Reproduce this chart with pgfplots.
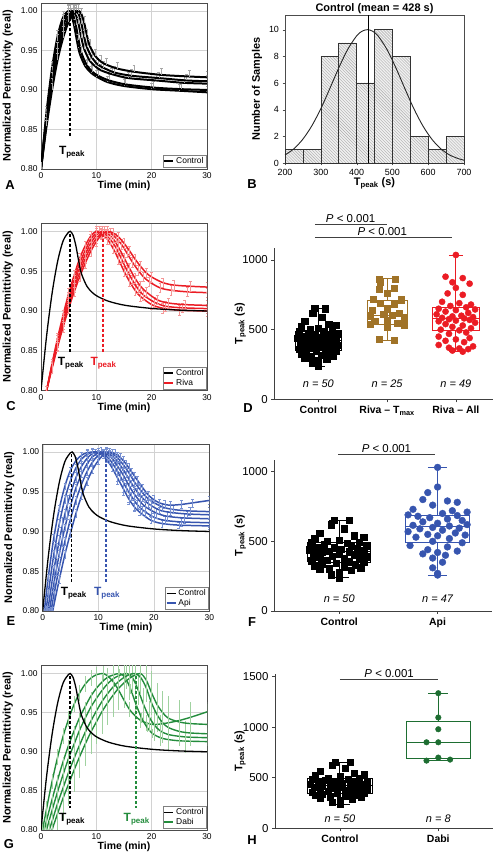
\documentclass[border=0pt]{standalone}
\usepackage{fontspec}
\setmainfont{Liberation Sans}
\usepackage{pgfplots}
\pgfplotsset{compat=1.18}
\usepackage{pgfplotstable}
\usetikzlibrary{patterns}

\definecolor{rivared}{RGB}{235,28,36}
\definecolor{rivaerr}{RGB}{245,150,150}
\definecolor{brownc}{RGB}{160,115,40}
\definecolor{apiblue}{RGB}{55,85,175}
\definecolor{apierr}{RGB}{120,145,210}
\definecolor{dabigreen}{RGB}{35,140,60}
\definecolor{dabidark}{RGB}{30,110,50}
\definecolor{dabierr}{RGB}{160,210,160}

\newcommand{\fs}[1]{\fontsize{#1}{#1}\selectfont}

\pgfplotstableread{
x y
-0.05 653
0.10 650
-0.08 620
0.05 590
-0.20 560
0.15 540
-0.25 520
0.25 530
0.00 510
-0.12 500
0.20 495
-0.28 490
0.08 485
-0.15 475
0.28 470
0.12 465
-0.05 460
-0.22 455
0.18 450
0.02 445
-0.30 440
0.25 435
-0.10 430
0.10 426
-0.18 420
0.22 415
0.00 410
-0.26 405
0.15 400
-0.07 395
0.28 390
-0.20 385
0.05 380
0.20 372
-0.12 365
-0.28 360
0.10 355
0.25 350
-0.03 345
-0.18 340
0.16 332
-0.25 325
0.05 318
0.22 310
-0.10 305
-0.20 298
0.12 292
0.00 280
-0.08 260
0.00 240
}\ctrltab

\pgfplotstableread{
x y
0.88 864
1.12 860
0.90 840
1.10 800
0.88 790
1.00 760
0.80 720
1.20 715
0.90 690
1.10 680
1.00 650
0.78 640
1.18 620
0.95 610
1.08 605
0.75 600
1.25 590
1.00 570
0.82 560
1.15 545
0.75 540
1.25 535
1.00 520
0.88 430
1.10 426
}\tmaxtab

\pgfplotstableread{
x y
2.00 1036
1.85 880
2.10 870
1.95 840
2.20 830
2.00 800
1.88 760
2.10 750
1.80 700
2.05 690
2.22 680
1.92 670
2.15 660
1.75 650
2.28 645
2.00 640
1.85 630
2.18 620
1.72 610
2.08 600
1.95 595
2.25 590
1.80 585
2.12 581
1.90 575
2.20 570
2.00 565
1.75 560
2.28 550
1.85 540
2.10 530
1.95 520
2.22 510
1.78 500
2.05 495
2.15 480
1.90 470
1.75 450
2.20 440
2.00 430
1.85 420
2.12 410
1.75 390
2.25 380
1.90 370
2.05 365
2.18 360
1.95 350
2.10 342
}\rivaalltab

\pgfplotstableread{
x y
1.00 1031
1.00 890
0.90 850
0.85 800
1.10 790
1.20 780
0.95 760
0.75 730
1.15 720
1.30 710
1.05 700
0.70 690
1.20 685
0.80 680
0.92 670
1.10 660
1.25 650
0.85 640
1.00 630
1.30 620
0.75 615
1.12 610
0.95 600
1.22 595
0.82 590
1.05 580
0.70 570
1.18 560
0.90 550
1.28 545
1.00 540
0.78 530
1.12 520
0.95 500
1.25 490
0.72 470
1.10 460
0.90 440
1.20 430
1.00 420
0.85 410
1.08 400
0.95 380
1.05 350
0.95 310
1.00 270
1.00 258
}\apitab

\pgfplotstableread{
x y
1.00 1335
1.00 1095
1.00 979
0.88 850
1.00 850
1.00 699
0.88 669
1.12 679
}\dabitab

\pgfplotsset{
  /pgf/number format/assume math mode=true,
  /pgf/number format/1000 sep={},
  timepanel/.style={
    scale only axis, width=166bp, xmin=0, xmax=30, ymin=0.8, ymax=1.01,
    anchor=south west,
    xtick={0,10,20,30}, ytick={0.80,0.85,0.90,0.95,1.00},
    yticklabel style={/pgf/number format/.cd, fixed, fixed zerofill, precision=2},
    grid=major, grid style={gray!35, line width=0.4pt},
    axis line style={gray!60!black, line width=0.5pt},
    tick style={draw=none},
    tick label style={font=\fs{8.5}},
    xlabel={Time (min)}, ylabel={Normalized Permittivity (real)},
    label style={font=\fs{11}\bfseries},
    xlabel style={font=\fs{10.5}\bfseries, inner sep=0pt},
    ylabel style={at={(axis description cs:-0.2,0.5)}, anchor=center},
    legend style={at={(axis description cs:0.995,0.008)}, anchor=south east, font=\fs{8.5}, inner sep=0.5bp, row sep=-2bp, draw=gray, legend cell align=left},
    legend image code/.code={\draw[##1] (0bp,0bp) -- (9bp,0bp);},
  },
  acurve/.style={forget plot, smooth, black, line width=2pt, error bars/.cd, y dir=plus, y fixed=0.008, error bar style={gray!70, line width=0.35pt}, error mark options={gray!70, rotate=90, mark size=1.4bp, line width=0.35pt}},
  ccurve/.style={forget plot, smooth, black, line width=1.3pt},
  rcurve/.style={forget plot, smooth, rivared, line width=1.5pt, error bars/.cd, y dir=both, y fixed=0.006, error bar style={rivaerr, line width=0.4pt}, error mark options={rivaerr, rotate=90, mark size=1.4bp, line width=0.4pt}},
  bcurve/.style={forget plot, smooth, apiblue, line width=1.5pt, error bars/.cd, y dir=both, y fixed=#1, error bar style={apierr, line width=0.4pt}, error mark options={apierr, rotate=90, mark size=1.4bp, line width=0.4pt}},
  berr/.style={forget plot, only marks, mark=*, mark size=0.01bp, mark options={draw=none, fill=none}, error bars/.cd, y dir=both, y explicit, error bar style={apierr, line width=0.5pt}, error mark options={apierr, rotate=90, mark size=1.6bp, line width=0.5pt}},
  gcurve/.style={forget plot, smooth, dabigreen, line width=1.4pt, error bars/.cd, y dir=both, y fixed=#1, error bar style={dabierr, line width=0.6pt}, error mark=none},
  catpanel/.style={
    scale only axis, clip=false, anchor=south west,
    axis lines*=left, axis line style={black!75, line width=0.7pt},
    ymin=0, tick align=outside, major tick length=3bp,
    tick style={black!75, line width=0.7pt},
    yticklabel style={font=\fs{11.5}},
    xticklabel style={font=\fs{10.5}\bfseries},
    ylabel={T\textsubscript{peak} (s)},
    ylabel style={font=\fs{11}\bfseries, anchor=center},
  },
  ctrlpts/.style={only marks, mark=square*, mark size=3.2bp, black},
  bxl/.style={#1, line width=0.9pt, mark=none},
}

\begin{document}
\begin{tikzpicture}
\useasboundingbox (0,0) rectangle (495bp,854bp);

% ---------------- A ----------------
\begin{axis}[timepanel, at={(41bp,685bp)}, height=166bp,
  xlabel style={at={(axis description cs:0.5,-0.104)}, anchor=center}]
\addplot[acurve] coordinates {(0,0.800)(1,0.872)(2,0.928)(3,0.968)(4,0.992)(5,1.000)(5.5,0.995)(6,0.981)(6.5,0.962)(7,0.946)(8,0.930)(9,0.922)(10,0.917)(12,0.910)(15,0.905)(20,0.901)(25,0.899)(30,0.897)};
\addplot[acurve] coordinates {(0,0.800)(1,0.868)(2,0.922)(3,0.962)(4,0.988)(5,0.999)(5.3,1.000)(5.8,0.995)(6.3,0.982)(6.8,0.963)(7.3,0.947)(8.3,0.931)(9.3,0.923)(10.3,0.918)(12.3,0.912)(15.3,0.907)(20.3,0.903)(25.3,0.901)(30,0.900)};
\addplot[acurve] coordinates {(0,0.800)(1,0.863)(2,0.914)(3,0.953)(4,0.981)(5,0.996)(5.8,1.000)(6.3,0.995)(6.8,0.983)(7.3,0.966)(7.8,0.952)(8.8,0.937)(9.8,0.930)(10.8,0.925)(12.8,0.920)(15.8,0.915)(20.8,0.912)(25.8,0.909)(30,0.908)};
\addplot[acurve] coordinates {(0,0.800)(1,0.858)(2,0.907)(3,0.945)(4,0.973)(5,0.991)(6,0.9995)(6.3,1.000)(6.8,0.996)(7.3,0.984)(7.8,0.967)(8.3,0.954)(9.3,0.940)(10.3,0.932)(11.3,0.928)(13.3,0.922)(16.3,0.918)(21.3,0.915)(26.3,0.912)(30,0.911)};
\addplot[acurve] coordinates {(0,0.800)(1,0.854)(2,0.900)(3,0.938)(4,0.966)(5,0.986)(6,0.997)(6.8,1.000)(7.3,0.996)(7.8,0.985)(8.3,0.969)(8.8,0.956)(9.8,0.943)(10.8,0.936)(11.8,0.932)(13.8,0.927)(16.8,0.923)(21.8,0.919)(26.8,0.917)(30,0.916)};
\addlegendimage{black, line width=1.8pt}\addlegendentry{Control}
\draw[black, line width=2.2pt, dash pattern=on 3bp off 2bp] (axis cs:5.2,0.997) -- (axis cs:5.2,0.839);
\node[font=\fs{12}\bfseries] at (axis cs:5.6,0.821) {T\textsubscript{peak}};
\end{axis}

% ---------------- B ----------------
\begin{axis}[scale only axis, anchor=south west, at={(285bp,691bp)}, width=179bp, height=148bp,
  clip=false,
  xmin=200, xmax=700, ymin=0, ymax=11.1,
  xtick={200,300,400,500,600,700}, ytick={0,2,4,6,8,10},
  tick pos=left, tick align=outside, major tick length=2.5bp,
  axis line style={gray!60!black, line width=0.5pt}, tick style={gray!60!black},
  tick label style={font=\fs{9}},
  xlabel={T\textsubscript{peak} (s)}, ylabel={Number of Samples},
  label style={font=\fs{11}\bfseries},
  xlabel style={at={(axis description cs:0.5,-0.137)}, anchor=center},
  ylabel style={at={(axis description cs:-0.156,0.5)}, anchor=center}]
\addplot[ybar interval, fill=gray!12, draw=gray!40!black, line width=0.45pt,
  postaction={pattern=north west lines, pattern color=gray!65}]
  coordinates {(200,1)(250,1)(300,8)(350,9)(400,6)(450,10)(500,8)(550,2)(600,1)(650,2)(700,2)};
\addplot[smooth, black!85, line width=0.9pt] coordinates {(200,0.60)(225,1.07)(250,1.79)(275,2.79)(300,4.07)(325,5.57)(350,7.12)(375,8.51)(400,9.53)(415,9.88)(430,10.0)(445,9.88)(460,9.53)(485,8.51)(510,7.12)(535,5.57)(560,4.07)(585,2.79)(610,1.79)(635,1.07)(660,0.60)(685,0.32)(700,0.21)};
\addplot[black, line width=1.2pt] coordinates {(433,0)(433,11.1)};
\node[font=\fs{11}\bfseries, anchor=center] at (axis description cs:0.5,1.046) {Control (mean = 428 s)};
\end{axis}

% ---------------- C ----------------
\begin{axis}[timepanel, at={(41bp,463.3bp)}, height=167.4bp,
  xlabel style={at={(axis description cs:0.5,-0.103)}, anchor=center}]
\addplot[rcurve] coordinates {(0.5,0.785)(1,0.800)(2,0.834)(3,0.866)(4,0.895)(5,0.922)(6,0.945)(7,0.966)(8,0.982)(9,0.994)(10,1.000)(11,0.997)(12,0.990)(13,0.979)(14,0.965)(15,0.950)(16,0.937)(17,0.926)(18,0.918)(20,0.908)(22,0.9035)(25,0.901)(30,0.900)};
\addplot[rcurve] coordinates {(0.5,0.785)(1,0.800)(2,0.833)(3,0.863)(4,0.891)(5,0.917)(6,0.939)(7,0.960)(8,0.976)(9,0.990)(10,0.998)(10.5,1.000)(11.5,0.997)(12.5,0.990)(13.5,0.980)(14.5,0.966)(15.5,0.9515)(16.5,0.939)(17.5,0.928)(18.5,0.920)(20.5,0.911)(22.5,0.906)(25.5,0.904)(30,0.903)};
\addplot[rcurve] coordinates {(0.5,0.785)(1,0.800)(2,0.831)(3,0.860)(4,0.887)(5,0.912)(6,0.934)(7,0.954)(8,0.971)(9,0.985)(10,0.995)(11,1.000)(12,0.997)(13,0.991)(14,0.980)(15,0.967)(16,0.9535)(17,0.941)(18,0.931)(19,0.924)(21,0.914)(23,0.910)(26,0.908)(30,0.907)};
\addplot[rcurve] coordinates {(0.5,0.785)(1,0.800)(2,0.830)(3,0.857)(4,0.883)(5,0.907)(6,0.929)(7,0.948)(8,0.966)(9,0.980)(10,0.991)(11,0.998)(11.5,1.000)(12.5,0.998)(13.5,0.992)(14.5,0.984)(15.5,0.973)(16.5,0.9615)(17.5,0.9515)(18.5,0.943)(19.5,0.937)(21.5,0.929)(23.5,0.926)(26.5,0.924)(30,0.923)};
\addplot[rcurve] coordinates {(0.5,0.785)(1,0.800)(2,0.828)(3,0.855)(4,0.880)(5,0.903)(6,0.924)(7,0.943)(8,0.960)(9,0.975)(10,0.987)(11,0.996)(12,1.000)(13,0.998)(14,0.993)(15,0.985)(16,0.9755)(17,0.965)(18,0.956)(19,0.948)(20,0.9426)(22,0.9356)(24,0.9325)(27,0.931)(30,0.930)};
\addplot[ccurve] coordinates {(0,0.800)(1,0.868)(2,0.922)(3,0.962)(4,0.988)(5,0.999)(5.3,1.000)(5.8,0.995)(6.3,0.982)(6.8,0.963)(7.3,0.947)(8.3,0.931)(9.3,0.923)(10.3,0.918)(12.3,0.912)(15.3,0.907)(20.3,0.903)(25.3,0.901)(30,0.900)};
\addlegendimage{black, line width=1.6pt}\addlegendentry{Control}
\addlegendimage{rivared, line width=1.6pt}\addlegendentry{Riva}
\draw[black, line width=1.8pt, dash pattern=on 3bp off 2bp] (axis cs:5.3,0.997) -- (axis cs:5.3,0.847);
\draw[rivared, line width=1.4pt, dash pattern=on 3bp off 2bp] (axis cs:11.2,0.997) -- (axis cs:11.2,0.847);
\node[font=\fs{12}\bfseries] at (axis cs:5.4,0.834) {T\textsubscript{peak}};
\node[font=\fs{12}\bfseries, text=rivared] at (axis cs:11.3,0.834) {T\textsubscript{peak}};
\end{axis}

% ---------------- D ----------------
\begin{axis}[catpanel, at={(274.3bp,454.7bp)}, width=218.7bp, height=151bp,
  xmin=-0.64, xmax=2.54, ymax=1084, ytick={0,500,1000},
  xtick={0,1,2}, xticklabels={Control, Riva -- T\textsubscript{max}, Riva -- All},
  ylabel style={at={(axis description cs:-0.155,0.5)}}]
\addplot[ctrlpts] table[x=x,y=y] {\ctrltab};
\addplot[bxl=black] coordinates {(-0.33,349)(0.33,349)(0.33,490)(-0.33,490)(-0.33,349)};
\addplot[bxl=black] coordinates {(-0.33,426)(0.33,426)};
\addplot[bxl=black] coordinates {(0,490)(0,653)};
\addplot[bxl=black] coordinates {(0,349)(0,239)};
\addplot[bxl=black] coordinates {(-0.1,653)(0.1,653)};
\addplot[bxl=black] coordinates {(-0.1,239)(0.1,239)};
\addplot[only marks, mark=square*, mark size=3.1bp, brownc] table[x=x,y=y] {\tmaxtab};
\addplot[bxl=brownc] coordinates {(0.71,538)(1.29,538)(1.29,713)(0.71,713)(0.71,538)};
\addplot[bxl=brownc] coordinates {(0.71,605)(1.29,605)};
\addplot[bxl=brownc] coordinates {(1,713)(1,864)};
\addplot[bxl=brownc] coordinates {(1,538)(1,426)};
\addplot[bxl=brownc] coordinates {(0.9,864)(1.1,864)};
\addplot[bxl=brownc] coordinates {(0.9,426)(1.1,426)};
\addplot[only marks, mark=*, mark size=3.1bp, rivared] table[x=x,y=y] {\rivaalltab};
\addplot[bxl=rivared] coordinates {(1.66,497)(2.34,497)(2.34,658)(1.66,658)(1.66,497)};
\addplot[bxl=rivared] coordinates {(1.66,581)(2.34,581)};
\addplot[bxl=rivared] coordinates {(2,658)(2,1036)};
\addplot[bxl=rivared] coordinates {(2,497)(2,342)};
\addplot[bxl=rivared] coordinates {(1.9,1036)(2.1,1036)};
\addplot[bxl=rivared] coordinates {(1.9,342)(2.1,342)};
\draw[gray!50!black, line width=0.7pt] (axis cs:-0.05,1256) -- (axis cs:1.0,1256);
\node[font=\fs{11.5}] at (axis cs:0.47,1295) {\textit{P} < 0.001};
\draw[gray!50!black, line width=0.7pt] (axis cs:-0.05,1163) -- (axis cs:1.95,1163);
\node[font=\fs{11.5}] at (axis cs:0.93,1205) {\textit{P} < 0.001};
\node[font=\fs{11}\itshape] at (axis cs:0,115) {n = 50};
\node[font=\fs{11}\itshape] at (axis cs:1,115) {n = 25};
\node[font=\fs{11}\itshape] at (axis cs:2,115) {n = 49};
\end{axis}

% ---------------- E ----------------
\begin{axis}[timepanel, at={(42.7bp,243bp)}, width=166.6bp, height=167bp,
  xlabel style={at={(axis description cs:0.5,-0.103)}, anchor=center}]
\addplot[bcurve=0.004] coordinates {(0,0.77)(0.3,0.800)(1,0.842)(2,0.892)(3,0.929)(4,0.957)(5,0.977)(6,0.989)(7,0.996)(8,0.999)(9.5,1.000)(10.5,0.997)(11.5,0.991)(12.5,0.980)(13.5,0.967)(14.5,0.954)(15.5,0.941)(16.5,0.931)(17.5,0.924)(19.5,0.914)(21.5,0.910)(24.5,0.908)(30,0.907)};
\addplot[bcurve=0.005] coordinates {(0.2,0.775)(0.6,0.800)(1,0.822)(2,0.871)(3,0.910)(4,0.941)(5,0.964)(6,0.980)(7,0.991)(8,0.997)(9,0.9995)(10,1.000)(11,0.997)(12,0.991)(13,0.981)(14,0.969)(15,0.9555)(16,0.944)(17,0.934)(18,0.927)(20,0.918)(22,0.914)(25,0.912)(30,0.911)};
\addplot[bcurve=0.006] coordinates {(0.5,0.78)(0.9,0.800)(2,0.851)(3,0.889)(4,0.922)(5,0.947)(6,0.968)(7,0.982)(8,0.992)(9,0.998)(10.5,1.000)(11.5,0.9975)(12.5,0.992)(13.5,0.982)(14.5,0.971)(15.5,0.958)(16.5,0.947)(17.5,0.938)(18.5,0.931)(20.5,0.923)(22.5,0.919)(25.5,0.917)(30,0.916)};
\addplot[bcurve=0.004] coordinates {(0.8,0.78)(1.2,0.800)(2,0.834)(3,0.872)(4,0.905)(5,0.932)(6,0.955)(7,0.972)(8,0.985)(9,0.994)(10,0.9987)(11,1.000)(12,0.9976)(13,0.992)(14,0.983)(15,0.972)(16,0.9605)(17,0.950)(18,0.942)(19,0.935)(21,0.927)(23,0.924)(26,0.922)(30,0.921)};
\addplot[bcurve=0.005] coordinates {(1,0.78)(1.5,0.800)(2,0.8195)(3,0.8555)(4,0.8875)(5,0.9155)(6,0.9395)(7,0.9595)(8,0.9755)(9,0.9875)(10,0.9955)(11.5,1.000)(12.5,0.998)(13.5,0.9925)(14.5,0.984)(15.5,0.974)(16.5,0.9625)(17.5,0.953)(18.5,0.9445)(19.5,0.9385)(21.5,0.931)(23.5,0.9276)(26.5,0.9258)(30,0.925)};
\addplot[bcurve=0.005] coordinates {(1.3,0.78)(1.8,0.800)(3,0.840)(4,0.871)(5,0.898)(6,0.923)(7,0.945)(8,0.963)(9,0.978)(10,0.989)(11,0.997)(12,1.000)(13,0.998)(14,0.993)(15,0.985)(16,0.975)(17,0.965)(18,0.955)(19,0.946)(20,0.940)(21,0.936)(22,0.934)(23,0.933)(25,0.934)(27,0.936)(30,0.939)};
\addplot[berr] coordinates {(11.5,0.9975) +- (0,0.008) (12.5,0.990) +- (0,0.014) (13.5,0.980) +- (0,0.02) (14.5,0.970) +- (0,0.025) (15.5,0.960) +- (0,0.026) (16.5,0.950) +- (0,0.024) (17.5,0.941) +- (0,0.02) (18.5,0.934) +- (0,0.015) (19.5,0.929) +- (0,0.01) (2.5,0.865) +- (0,0.02) (3.5,0.900) +- (0,0.018) (4.5,0.930) +- (0,0.015)};
\addplot[ccurve] coordinates {(0,0.800)(1,0.868)(2,0.922)(3,0.962)(4,0.988)(5,0.999)(5.3,1.000)(5.8,0.995)(6.3,0.982)(6.8,0.963)(7.3,0.947)(8.3,0.931)(9.3,0.923)(10.3,0.918)(12.3,0.912)(15.3,0.907)(20.3,0.903)(25.3,0.901)(30,0.900)};
\addlegendimage{black, line width=1.6pt}\addlegendentry{Control}
\addlegendimage{apiblue, line width=1.6pt}\addlegendentry{Api}
\draw[black, line width=1.8pt, dash pattern=on 3bp off 2bp] (axis cs:5.2,0.997) -- (axis cs:5.2,0.835);
\draw[apiblue, line width=1.8pt, dash pattern=on 3bp off 2bp] (axis cs:11.4,0.997) -- (axis cs:11.4,0.835);
\node[font=\fs{12}\bfseries] at (axis cs:5.6,0.822) {T\textsubscript{peak}};
\node[font=\fs{12}\bfseries, text=apiblue] at (axis cs:11.6,0.822) {T\textsubscript{peak}};
\end{axis}

% ---------------- F ----------------
\begin{axis}[catpanel, at={(274.3bp,243bp)}, width=217.4bp, height=151bp,
  xmin=-0.66, xmax=1.55, ymax=1084, ytick={0,500,1000},
  xtick={0,1}, xticklabels={Control, Api},
  ylabel style={at={(axis description cs:-0.156,0.5)}}]
\addplot[ctrlpts] table[x=x,y=y] {\ctrltab};
\addplot[bxl=black] coordinates {(-0.32,349)(0.32,349)(0.32,490)(-0.32,490)(-0.32,349)};
\addplot[bxl=black] coordinates {(-0.32,426)(0.32,426)};
\addplot[bxl=black] coordinates {(0,490)(0,653)};
\addplot[bxl=black] coordinates {(0,349)(0,239)};
\addplot[bxl=black] coordinates {(-0.1,653)(0.1,653)};
\addplot[bxl=black] coordinates {(-0.1,239)(0.1,239)};
\addplot[only marks, mark=*, mark size=3.4bp, apiblue] table[x=x,y=y] {\apitab};
\addplot[bxl=apiblue] coordinates {(0.675,490)(1.325,490)(1.325,689)(0.675,689)(0.675,490)};
\addplot[bxl=apiblue] coordinates {(0.675,610)(1.325,610)};
\addplot[bxl=apiblue] coordinates {(1,689)(1,1031)};
\addplot[bxl=apiblue] coordinates {(1,490)(1,258)};
\addplot[bxl=apiblue] coordinates {(0.9,1031)(1.1,1031)};
\addplot[bxl=apiblue] coordinates {(0.9,258)(1.1,258)};
\draw[gray!50!black, line width=0.7pt] (axis cs:-0.01,1125) -- (axis cs:0.97,1125);
\node[font=\fs{11.5}] at (axis cs:0.48,1168) {\textit{P} < 0.001};
\node[font=\fs{11}\itshape] at (axis cs:0,91) {n = 50};
\node[font=\fs{11}\itshape] at (axis cs:1,91) {n = 47};
\end{axis}

% ---------------- G ----------------
\begin{axis}[timepanel, at={(41bp,24bp)}, height=164.3bp,
  xlabel style={at={(axis description cs:0.5,-0.104)}, anchor=center}]
\addplot[gcurve=0.01] coordinates {(0,0.78)(0.3,0.800)(1,0.827)(2,0.862)(3,0.893)(4,0.920)(5,0.942)(6,0.961)(7,0.9755)(8,0.9865)(9,0.994)(10,0.9984)(11.2,1.000)(12,0.997)(13,0.990)(14,0.979)(15,0.966)(16,0.954)(17,0.946)(18,0.940)(19,0.937)(20,0.935)(21,0.935)(23,0.937)(25,0.940)(27,0.944)(30,0.951)};
\addplot[gcurve=0.006] coordinates {(0.2,0.785)(0.6,0.800)(1,0.812)(2,0.839)(3,0.864)(4,0.8875)(5,0.9086)(6,0.927)(7,0.944)(8,0.958)(9,0.971)(10,0.981)(11,0.989)(12,0.995)(13,0.998)(14.2,1.000)(15.2,0.995)(16.2,0.980)(17.2,0.960)(18.2,0.943)(19.2,0.931)(20.2,0.923)(22,0.917)(25,0.914)(30,0.913)};
\addplot[gcurve=0.02] coordinates {(0.6,0.785)(1,0.800)(2,0.825)(3,0.849)(4,0.871)(5,0.892)(6,0.910)(7,0.928)(8,0.943)(9,0.957)(10,0.968)(11,0.978)(12,0.9866)(13,0.993)(14,0.997)(15.5,1.000)(16.5,0.995)(17.5,0.980)(18.5,0.961)(19.5,0.945)(20.5,0.934)(21.5,0.927)(23,0.922)(26,0.919)(30,0.918)};
\addplot[gcurve=0.008] coordinates {(1,0.785)(1.5,0.800)(2,0.811)(3,0.834)(4,0.854)(5,0.874)(6,0.892)(7,0.909)(8,0.925)(9,0.939)(10,0.952)(11,0.964)(12,0.974)(13,0.9826)(14,0.9896)(15,0.995)(16,0.9986)(17,1.000)(18,0.995)(19,0.982)(20,0.962)(21,0.947)(22,0.937)(23,0.931)(25,0.926)(27,0.924)(30,0.923)};
\addplot[gcurve=0.028] coordinates {(1.5,0.785)(2,0.800)(3,0.821)(4,0.841)(5,0.859)(6,0.877)(7,0.894)(8,0.910)(9,0.925)(10,0.938)(11,0.951)(12,0.962)(13,0.972)(14,0.981)(15,0.988)(16,0.994)(17,0.998)(18,1.000)(19,0.992)(20,0.975)(21,0.960)(22,0.950)(23,0.943)(25,0.938)(27,0.936)(30,0.935)};
\addplot[ccurve] coordinates {(0,0.800)(1,0.868)(2,0.922)(3,0.962)(4,0.988)(5,0.999)(5.3,1.000)(5.8,0.995)(6.3,0.982)(6.8,0.963)(7.3,0.947)(8.3,0.931)(9.3,0.923)(10.3,0.918)(12.3,0.912)(15.3,0.907)(20.3,0.903)(25.3,0.901)(30,0.900)};
\addlegendimage{black, line width=1.6pt}\addlegendentry{Control}
\addlegendimage{dabigreen, line width=1.6pt}\addlegendentry{Dabi}
\draw[black, line width=1.8pt, dash pattern=on 3bp off 2bp] (axis cs:5.3,0.997) -- (axis cs:5.3,0.828);
\draw[dabigreen, line width=1.8pt, dash pattern=on 3bp off 2bp] (axis cs:17.2,0.997) -- (axis cs:17.2,0.828);
\node[font=\fs{12}\bfseries] at (axis cs:5.6,0.814) {T\textsubscript{peak}};
\node[font=\fs{12}\bfseries, text=dabigreen] at (axis cs:17.3,0.814) {T\textsubscript{peak}};
\end{axis}

% ---------------- H ----------------
\begin{axis}[catpanel, at={(275bp,25.7bp)}, width=218bp, height=154.3bp,
  xmin=-0.66, xmax=1.556, ymax=1525, ytick={0,500,1000,1500},
  xtick={0,1}, xticklabels={Control, Dabi},
  ylabel style={at={(axis description cs:-0.16,0.5)}}]
\addplot[only marks, mark=square*, mark size=3bp, black] table[x=x,y=y] {\ctrltab};
\addplot[bxl=black] coordinates {(-0.33,349)(0.33,349)(0.33,490)(-0.33,490)(-0.33,349)};
\addplot[bxl=black] coordinates {(-0.33,426)(0.33,426)};
\addplot[bxl=black] coordinates {(0,490)(0,653)};
\addplot[bxl=black] coordinates {(0,349)(0,239)};
\addplot[bxl=black] coordinates {(-0.1,653)(0.1,653)};
\addplot[bxl=black] coordinates {(-0.1,239)(0.1,239)};
\addplot[only marks, mark=*, mark size=2.8bp, dabidark] table[x=x,y=y] {\dabitab};
\addplot[bxl=dabidark] coordinates {(0.675,692)(1.325,692)(1.325,1055)(0.675,1055)(0.675,692)};
\addplot[bxl=dabidark] coordinates {(0.675,850)(1.325,850)};
\addplot[bxl=dabidark] coordinates {(1,1055)(1,1335)};
\addplot[bxl=dabidark] coordinates {(1,692)(1,669)};
\addplot[bxl=dabidark] coordinates {(0.9,1335)(1.1,1335)};
\addplot[bxl=dabidark] coordinates {(0.9,669)(1.1,669)};
\draw[gray!50!black, line width=0.7pt] (axis cs:0,1476) -- (axis cs:1.0,1476);
\node[font=\fs{11.5}] at (axis cs:0.5,1533) {\textit{P} < 0.001};
\node[font=\fs{11}\itshape] at (axis cs:0,99) {n = 50};
\node[font=\fs{11}\itshape] at (axis cs:1,99) {n = 8};
\end{axis}

% panel letters
\node[font=\fs{13}\bfseries] at (10bp,669bp) {A};
\node[font=\fs{13}\bfseries] at (252bp,670bp) {B};
\node[font=\fs{13}\bfseries] at (11bp,448bp) {C};
\node[font=\fs{13}\bfseries] at (248bp,446bp) {D};
\node[font=\fs{13}\bfseries] at (11bp,233bp) {E};
\node[font=\fs{13}\bfseries] at (252bp,232bp) {F};
\node[font=\fs{13}\bfseries] at (9bp,10bp) {G};
\node[font=\fs{13}\bfseries] at (252bp,14bp) {H};
\end{tikzpicture}
\end{document}
